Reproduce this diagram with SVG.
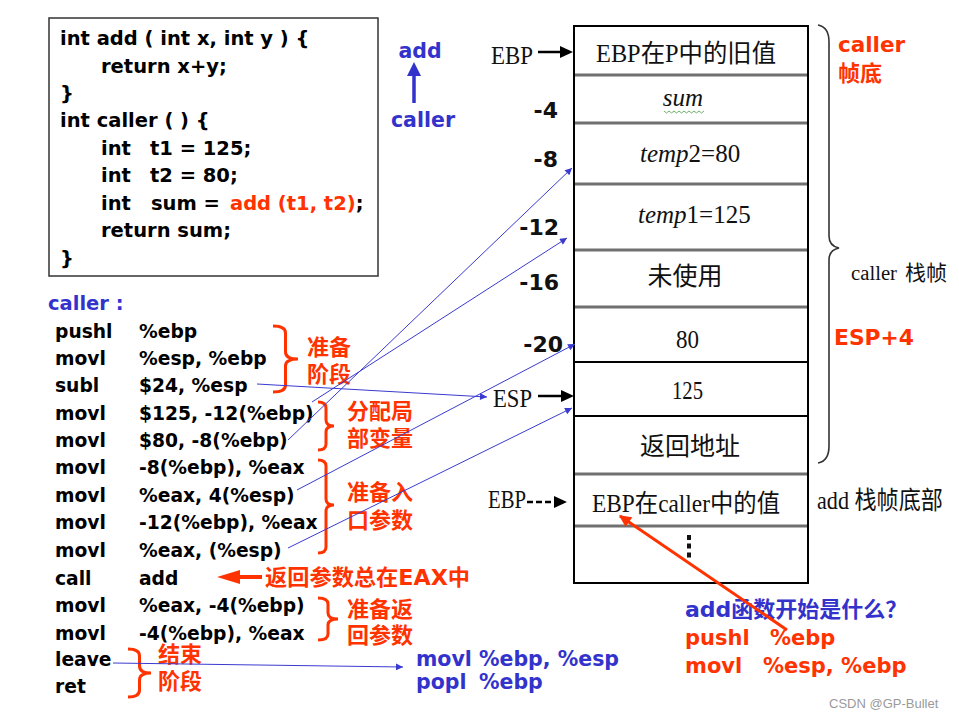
<svg xmlns="http://www.w3.org/2000/svg" width="959" height="718" viewBox="0 0 959 718">
<style>
.b{font-family:'DejaVu Sans',sans-serif;font-weight:bold}
.code{font-size:19.5px;fill:#000}
.asm{font-size:18.7px;fill:#000}
.cj{font-family:'DejaVu Sans','Noto Sans CJK SC',sans-serif;font-weight:bold;font-size:22px;fill:#ff3300}
.red{fill:#ff3300}
.blue{fill:#3333cc}
.serif{font-family:'Liberation Serif','Noto Sans CJK SC',serif;font-size:25px;fill:#111}
.off{font-size:22px;fill:#111}
.sep{stroke:#707070;stroke-width:3}
.sepk{stroke:#000;stroke-width:2}
.rb{fill:none;stroke:#ff3300;stroke-width:3}
.bl{stroke:#3a3ad0;stroke-width:1;fill:none;marker-end:url(#ba)}
</style>
<defs>
<marker id="ba" viewBox="0 0 10 10" refX="10" refY="5" markerWidth="9" markerHeight="7" orient="auto" markerUnits="userSpaceOnUse"><path d="M0,0 L10,5 L0,10 z" fill="#3a3ad0"/></marker>
<marker id="ra" viewBox="0 0 10 10" refX="9" refY="5" markerWidth="16" markerHeight="12" orient="auto" markerUnits="userSpaceOnUse"><path d="M0,0 L10,5 L0,10 z" fill="#ff3300"/></marker>
</defs>
<rect width="959" height="718" fill="#fff"/>

<g id="code">
<rect x="49" y="18" width="329" height="258" fill="#fff" stroke="#333" stroke-width="1.5"/>
<text class="b code" x="60" y="45">int add ( int x, int y ) {</text>
<text class="b code" x="101" y="72.5">return x+y;</text>
<text class="b code" x="60" y="100">}</text>
<text class="b code" x="60" y="127">int caller ( ) {</text>
<text class="b code" y="155"><tspan x="101">int</tspan><tspan x="150">t1 = 125;</tspan></text>
<text class="b code" y="182"><tspan x="101">int</tspan><tspan x="150">t2 = 80;</tspan></text>
<text class="b code" y="210"><tspan x="101">int</tspan><tspan x="151">sum = </tspan><tspan x="230" class="red">add (t1, t2)</tspan>;</text>
<text class="b code" x="101" y="237">return sum;</text>
<text class="b code" x="60" y="265">}</text>
</g>

<g id="call-dir">
<text class="b blue" x="420" y="58" font-size="20.5" text-anchor="middle">add</text>
<line x1="414" y1="103" x2="414" y2="74" stroke="#3333cc" stroke-width="3.5"/>
<polygon points="407,76 414,62 421,76" fill="#3333cc"/>
<text class="b blue" x="423" y="127" font-size="20.5" text-anchor="middle">caller</text>
</g>

<g id="listing">
<text class="b blue" x="48" y="310" font-size="19.5">caller :</text>
<g class="b asm">
<text x="55" y="338">pushl</text><text x="139" y="338">%ebp</text>
<text x="55" y="365">movl</text><text x="139" y="365">%esp, %ebp</text>
<text x="55" y="392">subl</text><text x="139" y="392">$24, %esp</text>
<text x="55" y="420">movl</text><text x="139" y="420">$125, -12(%ebp)</text>
<text x="55" y="447">movl</text><text x="139" y="447">$80, -8(%ebp)</text>
<text x="55" y="474">movl</text><text x="139" y="474">-8(%ebp), %eax</text>
<text x="55" y="502">movl</text><text x="139" y="502">%eax, 4(%esp)</text>
<text x="55" y="529">movl</text><text x="139" y="529">-12(%ebp), %eax</text>
<text x="55" y="557">movl</text><text x="139" y="557">%eax, (%esp)</text>
<text x="55" y="585">call</text><text x="139" y="585">add</text>
<text x="55" y="612">movl</text><text x="139" y="612">%eax, -4(%ebp)</text>
<text x="55" y="640">movl</text><text x="139" y="640">-4(%ebp), %eax</text>
<text x="55" y="666">leave</text>
<text x="55" y="693">ret</text>
</g>
</g>

<g id="notes">
<path class="rb" d="M273,326 Q285.5,326 285.5,333 L285.5,352 Q285.5,359 298,359 Q285.5,359 285.5,366 L285.5,385 Q285.5,392 273,392"/>
<text class="cj" x="307" y="355">准备</text>
<text class="cj" x="307" y="382">阶段</text>
<path class="rb" d="M318,402 Q326,402 326,408 L326,420 Q326,426 334,426 Q326,426 326,432 L326,444 Q326,450 318,450"/>
<text class="cj" x="347" y="419">分配局</text>
<text class="cj" x="347" y="446">部变量</text>
<path class="rb" d="M318,460 Q326,460 326,466 L326,499 Q326,505 334,505 Q326,505 326,511 L326,547 Q326,553 318,553"/>
<text class="cj" x="347" y="500">准备入</text>
<text class="cj" x="347" y="528">口参数</text>
<path class="rb" d="M318,598 Q328,598 328,604 L328,613 Q328,619 338,619 Q328,619 328,625 L328,634 Q328,640 318,640"/>
<text class="cj" x="347" y="617">准备返</text>
<text class="cj" x="347" y="643">回参数</text>
<path class="rb" d="M128,649 Q139.5,649 139.5,656 L139.5,666 Q139.5,673 151,673 Q139.5,673 139.5,680 L139.5,690 Q139.5,697 128,697"/>
<text class="cj" x="158" y="662">结束</text>
<text class="cj" x="158" y="689">阶段</text>
<line x1="238" y1="577" x2="262" y2="577" stroke="#ff3300" stroke-width="4"/>
<polygon points="217,577 240,570 240,584" fill="#ff3300"/>
<text class="cj" x="265" y="585" textLength="205" lengthAdjust="spacingAndGlyphs">返回参数总在EAX中</text>
<text class="b blue" x="416" y="666" font-size="20.5">movl %ebp, %esp</text>
<text class="b blue" y="689" font-size="20.5"><tspan x="416">popl</tspan><tspan x="479">%ebp</tspan></text>
</g>

<g id="stack">
<rect x="574" y="26" width="234" height="557" fill="#fff" stroke="#000" stroke-width="2"/>
<line class="sep" x1="575" y1="75" x2="807" y2="75"/>
<line class="sep" x1="575" y1="123" x2="807" y2="123"/>
<line class="sep" x1="575" y1="184" x2="807" y2="184"/>
<line class="sep" x1="575" y1="250" x2="807" y2="250"/>
<line class="sep" x1="575" y1="307" x2="807" y2="307"/>
<line class="sepk" x1="575" y1="362" x2="807" y2="362"/>
<line class="sepk" x1="575" y1="416" x2="807" y2="416"/>
<line class="sep" x1="575" y1="474" x2="807" y2="474"/>
<line class="sep" x1="575" y1="526" x2="807" y2="526"/>
<text class="serif" x="596" y="62" textLength="180" lengthAdjust="spacingAndGlyphs">EBP在P中的旧值</text>
<text class="serif" x="683" y="106" text-anchor="middle" font-style="italic">sum</text>
<path d="M664,111 l2.5,2 l2.5,-2 l2.5,2 l2.5,-2 l2.5,2 l2.5,-2 l2.5,2 l2.5,-2 l2.5,2 l2.5,-2 l2.5,2 l2.5,-2 l2.5,2 l2.5,-2 l2.5,2 l2.5,-2" fill="none" stroke="#4a9a4a" stroke-width="0.8"/>
<text class="serif" x="640" y="162"><tspan font-style="italic">temp</tspan>2=80</text>
<text class="serif" x="638" y="223"><tspan font-style="italic">temp</tspan>1=125</text>
<text class="serif" x="685" y="285" text-anchor="middle" font-size="22">未使用</text>
<text class="serif" x="676" y="348" font-size="27" textLength="23" lengthAdjust="spacingAndGlyphs">80</text>
<text class="serif" x="672" y="399" font-size="27" textLength="31" lengthAdjust="spacingAndGlyphs">125</text>
<text class="serif" x="690" y="455" text-anchor="middle" font-size="22.5">返回地址</text>
<text class="serif" x="592" y="512" textLength="188" lengthAdjust="spacingAndGlyphs">EBP在caller中的值</text>
<rect x="687" y="535" width="4" height="5" fill="#111"/>
<rect x="687" y="543.5" width="4" height="5" fill="#111"/>
<rect x="687" y="552.5" width="4" height="5" fill="#111"/>
</g>

<g id="stack-labels">
<text class="serif" x="491" y="64" font-size="27" textLength="42" lengthAdjust="spacingAndGlyphs">EBP</text>
<line x1="538" y1="52" x2="562" y2="52" stroke="#000" stroke-width="2.5"/>
<polygon points="560,46 573,52 560,58" fill="#000"/>
<text class="b off" x="558" y="118" text-anchor="end">-4</text>
<text class="b off" x="558" y="167" text-anchor="end">-8</text>
<text class="b off" x="559" y="235" text-anchor="end">-12</text>
<text class="b off" x="559" y="290" text-anchor="end">-16</text>
<text class="b off" x="563" y="352" text-anchor="end">-20</text>
<text class="serif" x="493" y="407" font-size="27" textLength="39" lengthAdjust="spacingAndGlyphs">ESP</text>
<line x1="538" y1="396" x2="563" y2="396" stroke="#000" stroke-width="2.5"/>
<polygon points="561,390 574,396 561,402" fill="#000"/>
<text class="serif" x="488" y="508" font-size="27" textLength="38" lengthAdjust="spacingAndGlyphs">EBP</text>
<line x1="527" y1="502" x2="556" y2="502" stroke="#000" stroke-width="2.5" stroke-dasharray="6,3"/>
<polygon points="554,496 567,502 554,508" fill="#000"/>
<path d="M818,25 Q829,27 829,42 L829,236 Q829,246 839,248 Q829,250 829,260 L829,446 Q829,461 818,463" fill="none" stroke="#333" stroke-width="1.6"/>
<text class="b red" x="838" y="52" font-size="21.5">caller</text>
<text class="cj" x="838" y="81">帧底</text>
<text x="851" y="280" font-family="'Liberation Serif',serif" font-size="20" fill="#111" textLength="46" lengthAdjust="spacingAndGlyphs">caller</text>
<text x="905" y="280" font-family="'Noto Sans CJK SC',sans-serif" font-size="21" fill="#111">栈帧</text>
<text class="b red" x="834" y="345" font-size="21.8">ESP+4</text>
<text class="serif" x="817" y="509" font-size="23" textLength="126" lengthAdjust="spacingAndGlyphs">add 栈帧底部</text>
</g>

<g id="add-start">
<text x="685" y="617" font-family="'DejaVu Sans','Noto Sans CJK SC',sans-serif" font-weight="bold" font-size="22" fill="#3333cc">add<tspan font-family="'Noto Sans CJK SC',sans-serif">函数开始是什么？</tspan></text>
<text class="b red" y="645" font-size="21"><tspan x="685">pushl</tspan><tspan x="770">%ebp</tspan></text>
<text class="b red" y="673" font-size="21"><tspan x="685">movl</tspan><tspan x="763">%esp, %ebp</tspan></text>
<text x="829" y="708" font-family="'Liberation Sans',Arial,sans-serif" font-size="13" fill="#9a9a9a">CSDN @GP-Bullet</text>
</g>

<g id="connectors">
<path class="bl" d="M257,384 L487,397"/>
<path class="bl" d="M312,402 L567,238"/>
<path class="bl" d="M288,440 L572,168"/>
<path class="bl" d="M297,490 L575,344"/>
<path class="bl" d="M288,548 L572,408"/>
<path class="bl" d="M113,663 L403,667"/>
<path d="M787,630 L620,516" stroke="#ff3300" stroke-width="3" fill="none" marker-end="url(#ra)"/>
</g>
</svg>
